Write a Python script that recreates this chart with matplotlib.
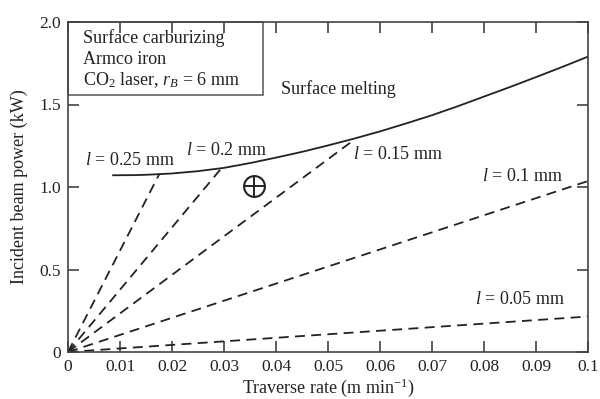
import matplotlib
matplotlib.use("Agg")
import matplotlib.pyplot as plt
from matplotlib.patches import Rectangle

plt.rcParams['font.family'] = ['Liberation Serif', 'DejaVu Serif']
plt.rcParams['mathtext.fontset'] = 'custom'
plt.rcParams['mathtext.rm'] = 'Liberation Serif'
plt.rcParams['mathtext.it'] = 'Liberation Serif:italic'

# Melting boundary (solid curve)
melt_x = [0.0085, 0.0125, 0.015, 0.02, 0.025, 0.03, 0.035, 0.04, 0.045, 0.05,
          0.055, 0.06, 0.065, 0.07, 0.075, 0.08, 0.085, 0.09, 0.095, 0.10]
melt_y = [1.071, 1.072, 1.074, 1.082, 1.096, 1.116, 1.145, 1.178, 1.213, 1.252,
          1.293, 1.337, 1.385, 1.435, 1.490, 1.548, 1.606, 1.666, 1.727, 1.790]

# Case-depth lines (dashed, from origin to end point)
depth_labels = ["0.25", "0.2", "0.15", "0.1", "0.05"]
depth_end_x = [0.0175, 0.0294, 0.0552, 0.100, 0.100]
depth_end_y = [1.075, 1.110, 1.290, 1.036, 0.215]
# label anchor (left edge, vertical centre)
label_x = [0.0033, 0.0227, 0.0549, 0.0796, 0.0783]
label_y = [1.158, 1.223, 1.199, 1.065, 0.320]

# Operating point marker
point_x = [0.0358]
point_y = [1.005]

x_ticks = [0, 0.01, 0.02, 0.03, 0.04, 0.05, 0.06, 0.07, 0.08, 0.09, 0.1]
x_ticklabels = ["0", "0.01", "0.02", "0.03", "0.04", "0.05", "0.06", "0.07", "0.08", "0.09", "0.1"]
y_ticks = [0, 0.5, 1.0, 1.5, 2.0]
y_ticklabels = ["0", "0.5", "1.0", "1.5", "2.0"]

fig = plt.figure(figsize=(6.0, 3.99), dpi=100)
ax = fig.add_axes([68/600, 1-352/399, 520/600, 330/399])

ink = '#222222'
ax.plot(melt_x, melt_y, color=ink, lw=1.3, solid_capstyle='butt', solid_joinstyle='round')
for ex, ey in zip(depth_end_x, depth_end_y):
    ax.plot([0, ex], [0, ey], color=ink, lw=1.3, dashes=(5.5, 3.5))

for lab, lx, ly in zip(depth_labels, label_x, label_y):
    ax.text(lx, ly, r"$l$ = " + lab + " mm", fontsize=13, color=ink,
            ha='left', va='center')

ax.plot(point_x, point_y, marker='o', ms=15, mfc='none', mec=ink, mew=1.5, ls='none')
ax.plot(point_x, point_y, marker='+', ms=15, mec=ink, mew=1.4, ls='none')

ax.text(0.041, 1.595, "Surface melting", fontsize=13, color=ink, ha='left', va='center')

# info box
ax.add_patch(Rectangle((0, 1), 195/520, -73/330, transform=ax.transAxes,
                       fill=False, ec='#555555', lw=1.1, clip_on=False))
info = ["Surface carburizing", "Armco iron", r"CO$_2$ laser, $r_B$ = 6 mm"]
for i, t in enumerate(info):
    ax.text(15/520, 1 - (16.3 + 21*i)/330, t, transform=ax.transAxes,
            fontsize=13, color=ink, ha='left', va='center')

ax.set_xlim(0, 0.1)
ax.set_ylim(0, 2.0)
ax.set_xticks(x_ticks)
ax.set_xticklabels(x_ticklabels)
ax.set_yticks(y_ticks)
ax.set_yticklabels(y_ticklabels)
ax.tick_params(direction='in', length=8, width=1.1, color='#333333',
               labelsize=12.5, labelcolor=ink, top=True, right=True, pad=5)
for s in ax.spines.values():
    s.set_color('#444444')
    s.set_linewidth(1.2)

ax.set_xlabel(r"Traverse rate (m min$^{-1}$)", fontsize=13, color=ink, labelpad=1)
ax.set_ylabel("Incident beam power (kW)", fontsize=13, color=ink, labelpad=8)

fig.savefig("out.png", dpi=100)
